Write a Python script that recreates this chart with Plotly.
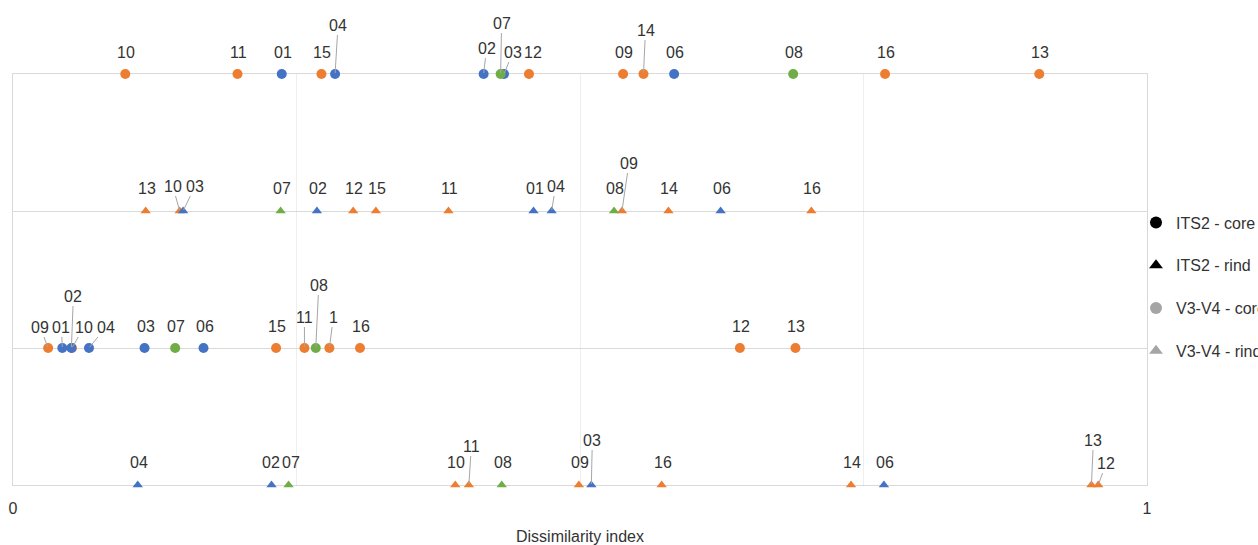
import plotly.graph_objects as go

# ---------------- data ----------------
row_names = ["ITS2 - core", "ITS2 - rind", "V3-V4 - core", "V3-V4 - rind"]
row_levels = [4, 3, 2, 1]
row_symbols = ["circle", "triangle-up", "circle", "triangle-up"]

its2_core_labels = ["10", "11", "01", "15", "04", "02", "07", "03", "12", "09", "14", "06", "08", "16", "13"]
its2_core_values = [0.099, 0.198, 0.237, 0.272, 0.284, 0.415, 0.430, 0.433, 0.455, 0.538, 0.556, 0.583, 0.688, 0.769, 0.905]

its2_rind_labels = ["13", "10", "03", "07", "02", "12", "15", "11", "01", "04", "08", "09", "14", "06", "16"]
its2_rind_values = [0.117, 0.147, 0.150, 0.236, 0.268, 0.300, 0.320, 0.384, 0.459, 0.475, 0.530, 0.537, 0.578, 0.624, 0.704]

v34_core_labels = ["09", "01", "02", "10", "04", "03", "07", "06", "15", "11", "08", "1", "16", "12", "13"]
v34_core_values = [0.031, 0.0435, 0.0515, 0.052, 0.067, 0.116, 0.143, 0.168, 0.232, 0.257, 0.267, 0.279, 0.306, 0.641, 0.690]

v34_rind_labels = ["04", "02", "07", "10", "11", "08", "09", "03", "16", "14", "06", "13", "12"]
v34_rind_values = [0.110, 0.228, 0.243, 0.390, 0.402, 0.431, 0.499, 0.510, 0.572, 0.739, 0.768, 0.951, 0.957]

rows_labels = [its2_core_labels, its2_rind_labels, v34_core_labels, v34_rind_labels]
rows_values = [its2_core_values, its2_rind_values, v34_core_values, v34_rind_values]

# sample -> group
group_of = {"01": "A", "02": "A", "03": "A", "04": "A", "06": "A",
            "07": "C", "08": "C",
            "09": "B", "10": "B", "11": "B", "12": "B", "13": "B",
            "14": "B", "15": "B", "16": "B", "1": "B"}

x_tickvals = [0, 0.25, 0.5, 0.75, 1]
x_ticktext = ["0", "", "", "", "1"]

# ---------------- styles ----------------
group_colors = {"B": "#ED7D31", "A": "#4472C4", "C": "#70AD47"}
draw_order = ["B", "A", "C"]
FONT = "Liberation Sans Narrow, Arial Narrow, Liberation Sans, Arial, sans-serif"
TXT = "#333333"
FS = 16

# label displacement (dx, dy up, leader line) in pixels for crowded labels
label_offsets = {
    (0, "04"): (3, 49, True), (0, "02"): (3, 26, True), (0, "07"): (1, 51, True),
    (0, "03"): (9, 22, True), (0, "12"): (4, 22, False), (0, "14"): (2, 44, True),
    (1, "10"): (-7, 25, True), (1, "03"): (12, 25, True), (1, "04"): (4, 25, True),
    (1, "09"): (7, 48, True),
    (2, "09"): (-8, 21, True), (2, "01"): (-1, 21, True), (2, "02"): (2, 52, True),
    (2, "10"): (12, 21, True), (2, "04"): (17, 21, True), (2, "11"): (0, 31, True),
    (2, "08"): (3, 63, True), (2, "1"): (4, 31, True),
    (3, "02"): (-1, 23, False), (3, "07"): (2, 23, False),
    (3, "11"): (2.5, 39, True), (3, "03"): (1, 45, True), (3, "13"): (2, 45, True),
    (3, "12"): (8, 22, True),
}

fig = go.Figure()
annotations = []

for r, (labs, vals) in enumerate(zip(rows_labels, rows_values)):
    sym = row_symbols[r]
    size = 10 if sym == "circle" else 9
    for g in draw_order:
        xs = [v for l, v in zip(labs, vals) if group_of[l] == g]
        if not xs:
            continue
        fig.add_trace(go.Scatter(
            x=xs, y=[row_levels[r]] * len(xs), mode="markers",
            marker=dict(symbol=sym, size=size, color=group_colors[g], line=dict(width=0)),
            showlegend=False, cliponaxis=False, hoverinfo="x"))
    default_dy = 22 if sym == "circle" else 23
    for l, v in zip(labs, vals):
        dx, dy, leader = label_offsets.get((r, l), (1, default_dy, False))
        if leader:
            annotations.append(dict(x=v, y=row_levels[r], text=l, showarrow=True,
                                    ax=dx, ay=-dy, arrowhead=0, arrowwidth=1,
                                    arrowcolor="#a6a6a6", standoff=1,
                                    font=dict(family=FONT, size=FS, color=TXT)))
        else:
            annotations.append(dict(x=v, y=row_levels[r], text=l, showarrow=False,
                                    xshift=dx, yshift=dy,
                                    font=dict(family=FONT, size=FS, color=TXT)))

# legend entries
legend_colors = ["#000000", "#000000", "#A5A5A5", "#A5A5A5"]
for i, name in enumerate(row_names):
    fig.add_trace(go.Scatter(
        x=[None], y=[None], mode="markers", name=name, legendgroup=name,
        marker=dict(symbol=row_symbols[i], size=8, color=legend_colors[i])))

fig.update_layout(
    width=1258, height=545,
    margin=dict(l=13, r=111, t=74, b=60, autoexpand=False),
    paper_bgcolor="white", plot_bgcolor="white",
    font=dict(family=FONT, size=FS, color=TXT),
    showlegend=True,
    legend=dict(x=0.9903, xanchor="left", y=0.680, yanchor="top",
                font=dict(family=FONT, size=FS, color=TXT),
                tracegroupgap=19, bgcolor="rgba(0,0,0,0)", itemsizing="constant"),
    annotations=annotations,
    xaxis=dict(range=[0, 1], tickvals=x_tickvals, ticktext=x_ticktext,
               showgrid=True, gridcolor="#eeeeee", gridwidth=1,
               showline=True, linecolor="#d9d9d9", linewidth=1, mirror=True,
               layer="below traces",
               zeroline=False, ticks="", ticklabelstandoff=9,
               tickfont=dict(family=FONT, size=FS, color=TXT),
               title=dict(text="Dissimilarity index", standoff=16,
                          font=dict(family=FONT, size=FS, color=TXT))),
    yaxis=dict(range=[1, 4], tickvals=row_levels, showticklabels=False,
               showgrid=True, gridcolor="#d9d9d9", gridwidth=1,
               showline=True, linecolor="#d9d9d9", linewidth=1, mirror=True,
               layer="below traces",
               zeroline=False, ticks=""),
)

fig.write_html("out.html", config={"displayModeBar": False},
               post_script="document.body.style.margin='0px';")
